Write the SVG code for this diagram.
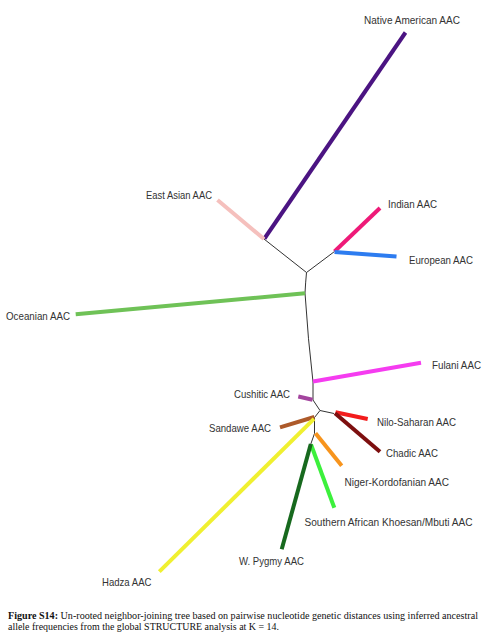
<svg xmlns="http://www.w3.org/2000/svg" width="488" height="639" viewBox="0 0 488 639">
<style>
.lbl{font-family:"Liberation Sans",Arial,sans-serif;font-size:11px;fill:#333333}
.cap{font-family:"Liberation Serif","Times New Roman",serif;font-size:10px;fill:#111111}
.int{fill:none;stroke:#333333;stroke-width:1}
.br{fill:none;stroke-width:4}
</style>
<rect width="488" height="639" fill="#ffffff"/>
<g id="connectors">
<path class="int" d="M264,239 L306.5,272.5 L334.5,251.5"/>
<path class="int" d="M306.5,272.5 Q305.5,283 305,293 Q308,340 313,382 L313,400 L320,410.5 L334,413.5"/>
<path class="int" d="M320,410.5 L314.5,417.5 L314.5,433.5 L310.8,444"/>
<line class="br" x1="264.5" y1="238.5" x2="405.5" y2="32.5" stroke="#4b1482"/>
<line class="br" x1="264" y1="239" x2="217.5" y2="200" stroke="#f5c0bd"/>
<line class="br" x1="334.5" y1="251.5" x2="380" y2="208" stroke="#ee1a78"/>
<line class="br" x1="334.5" y1="252" x2="396.5" y2="256.5" stroke="#2d7cf0"/>
<line class="br" x1="305" y1="293.3" x2="75.7" y2="314.3" stroke="#6fc257"/>
<line class="br" x1="313" y1="381.5" x2="421" y2="362.7" stroke="#f53cf0"/>
<line class="br" x1="312.5" y1="399.7" x2="298.3" y2="396.5" stroke="#a3449e"/>
<line class="br" x1="335.5" y1="412.3" x2="367.7" y2="419" stroke="#f21c1c"/>
<line class="br" x1="335" y1="413.3" x2="380" y2="451.7" stroke="#7d0f0f"/>
<line class="br" x1="314.3" y1="417" x2="280" y2="427.3" stroke="#ad5a2a"/>
<line class="br" x1="314" y1="418.8" x2="159.3" y2="571.7" stroke="#f0f030"/>
<line class="br" x1="315.5" y1="433.3" x2="341.7" y2="465.7" stroke="#f7941d"/>
<line class="br" x1="311" y1="444.5" x2="334.3" y2="507.7" stroke="#3cf03c"/>
<line class="br" x1="310.8" y1="444" x2="281.7" y2="549.3" stroke="#17691e"/>
</g>
<g id="native-american"><text class="lbl" x="364" y="24" textLength="96" lengthAdjust="spacingAndGlyphs">Native American AAC</text></g>
<g id="east-asian"><text class="lbl" x="146" y="199" textLength="66" lengthAdjust="spacingAndGlyphs">East Asian AAC</text></g>
<g id="indian"><text class="lbl" x="388" y="208" textLength="49" lengthAdjust="spacingAndGlyphs">Indian AAC</text></g>
<g id="european"><text class="lbl" x="409" y="264" textLength="64" lengthAdjust="spacingAndGlyphs">European AAC</text></g>
<g id="oceanian"><text class="lbl" x="6" y="320" textLength="64" lengthAdjust="spacingAndGlyphs">Oceanian AAC</text></g>
<g id="fulani"><text class="lbl" x="432" y="368.5" textLength="49" lengthAdjust="spacingAndGlyphs">Fulani AAC</text></g>
<g id="cushitic"><text class="lbl" x="234" y="398" textLength="56" lengthAdjust="spacingAndGlyphs">Cushitic AAC</text></g>
<g id="sandawe"><text class="lbl" x="209" y="432" textLength="62" lengthAdjust="spacingAndGlyphs">Sandawe AAC</text></g>
<g id="nilo-saharan"><text class="lbl" x="377" y="426" textLength="79" lengthAdjust="spacingAndGlyphs">Nilo-Saharan AAC</text></g>
<g id="chadic"><text class="lbl" x="386" y="456.5" textLength="52" lengthAdjust="spacingAndGlyphs">Chadic AAC</text></g>
<g id="niger-kordofanian"><text class="lbl" x="344.5" y="485.5" textLength="104.5" lengthAdjust="spacingAndGlyphs">Niger-Kordofanian AAC</text></g>
<g id="southern-african"><text class="lbl" x="304.5" y="525.5" textLength="168" lengthAdjust="spacingAndGlyphs">Southern African Khoesan/Mbuti AAC</text></g>
<g id="w-pygmy"><text class="lbl" x="239" y="565" textLength="65" lengthAdjust="spacingAndGlyphs">W. Pygmy AAC</text></g>
<g id="hadza"><text class="lbl" x="102" y="585.5" textLength="49.5" lengthAdjust="spacingAndGlyphs">Hadza AAC</text></g>
<g id="caption">
<text class="cap" x="8" y="619" textLength="470" lengthAdjust="spacingAndGlyphs"><tspan font-weight="bold">Figure S14:</tspan> Un-rooted neighbor-joining tree based on pairwise nucleotide genetic distances using inferred ancestral</text>
<text class="cap" x="8" y="629.5" textLength="271" lengthAdjust="spacingAndGlyphs">allele frequencies from the global STRUCTURE analysis at K = 14.</text>
</g>
</svg>
